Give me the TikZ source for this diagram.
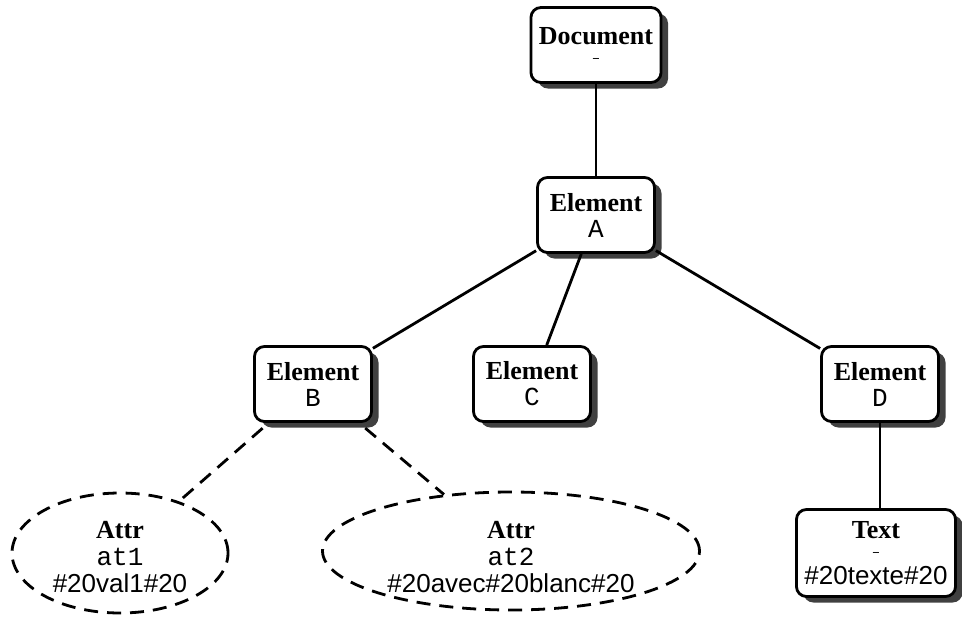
\documentclass[tikz,border=0pt]{standalone}
\usepackage{fontspec}
\setmainfont{Liberation Serif}
\setsansfont{Liberation Sans}
\setmonofont{Liberation Mono}
\usetikzlibrary{shapes.geometric,shadows}

\newcommand{\nilname}{{\fontsize{14}{14}\selectfont\texttt{–}}}

\begin{document}
\begin{tikzpicture}[x=1pt,y=-1pt,
  every node/.style={font=\fontsize{26}{26}\selectfont},
  box/.style={draw,line width=2.8pt,rounded corners=10pt,fill=white,
    drop shadow={shadow xshift=7pt,shadow yshift=-6pt,fill=black!75,opacity=1},
    minimum width=117pt,minimum height=75pt,align=center,inner xsep=8pt},
  attr/.style={draw,ellipse,line width=2.8pt,dash pattern=on 14pt off 9pt,
    inner sep=0pt},
  attrtext/.style={align=center,inner sep=0pt},
  link/.style={line width=2.8pt},
  attrlink/.style={line width=2.8pt,dash pattern=on 14pt off 9pt}]
\useasboundingbox (0,0) rectangle (962,619);
\node[box] (doc) at (596,45) {\textbf{Document}\\[-8pt]\nilname};
\node[box] (a) at (596,215) {\textbf{Element}\\\texttt{A}};
\node[box] (b) at (313,384) {\textbf{Element}\\\texttt{B}};
\node[box] (c) at (532,384) {\textbf{Element}\\\texttt{C}};
\node[box] (d) at (880,384) {\textbf{Element}\\\texttt{D}};
\node[box,minimum height=87pt] (t) at (876,553) {\textbf{Text}\\[-8pt]\nilname\\[2pt]\textsf{\#20texte\#20}};
\node[attr,minimum width=216pt,minimum height=120pt] (at1) at (120,553) {};
\node[attrtext] (at1t) at (120,557) {\textbf{Attr}\\[1pt]\texttt{at1}\\[1pt]\textsf{\#20val1\#20}};
\node[attr,minimum width=377pt,minimum height=118pt] (at2) at (511,551) {};
\node[attrtext] (at2t) at (511,557) {\textbf{Attr}\\[1pt]\texttt{at2}\\[1pt]\textsf{\#20avec\#20blanc\#20}};
\draw[link] (doc)--(a);
\draw[link] (a)--(b);\draw[link] (a)--(c);\draw[link] (a)--(d);
\draw[link] (d)--(d |- t.north);
\draw[attrlink,shorten <=8pt] (b)--(at1);\draw[attrlink,shorten <=8pt] (b)--(at2);
\end{tikzpicture}
\end{document}
